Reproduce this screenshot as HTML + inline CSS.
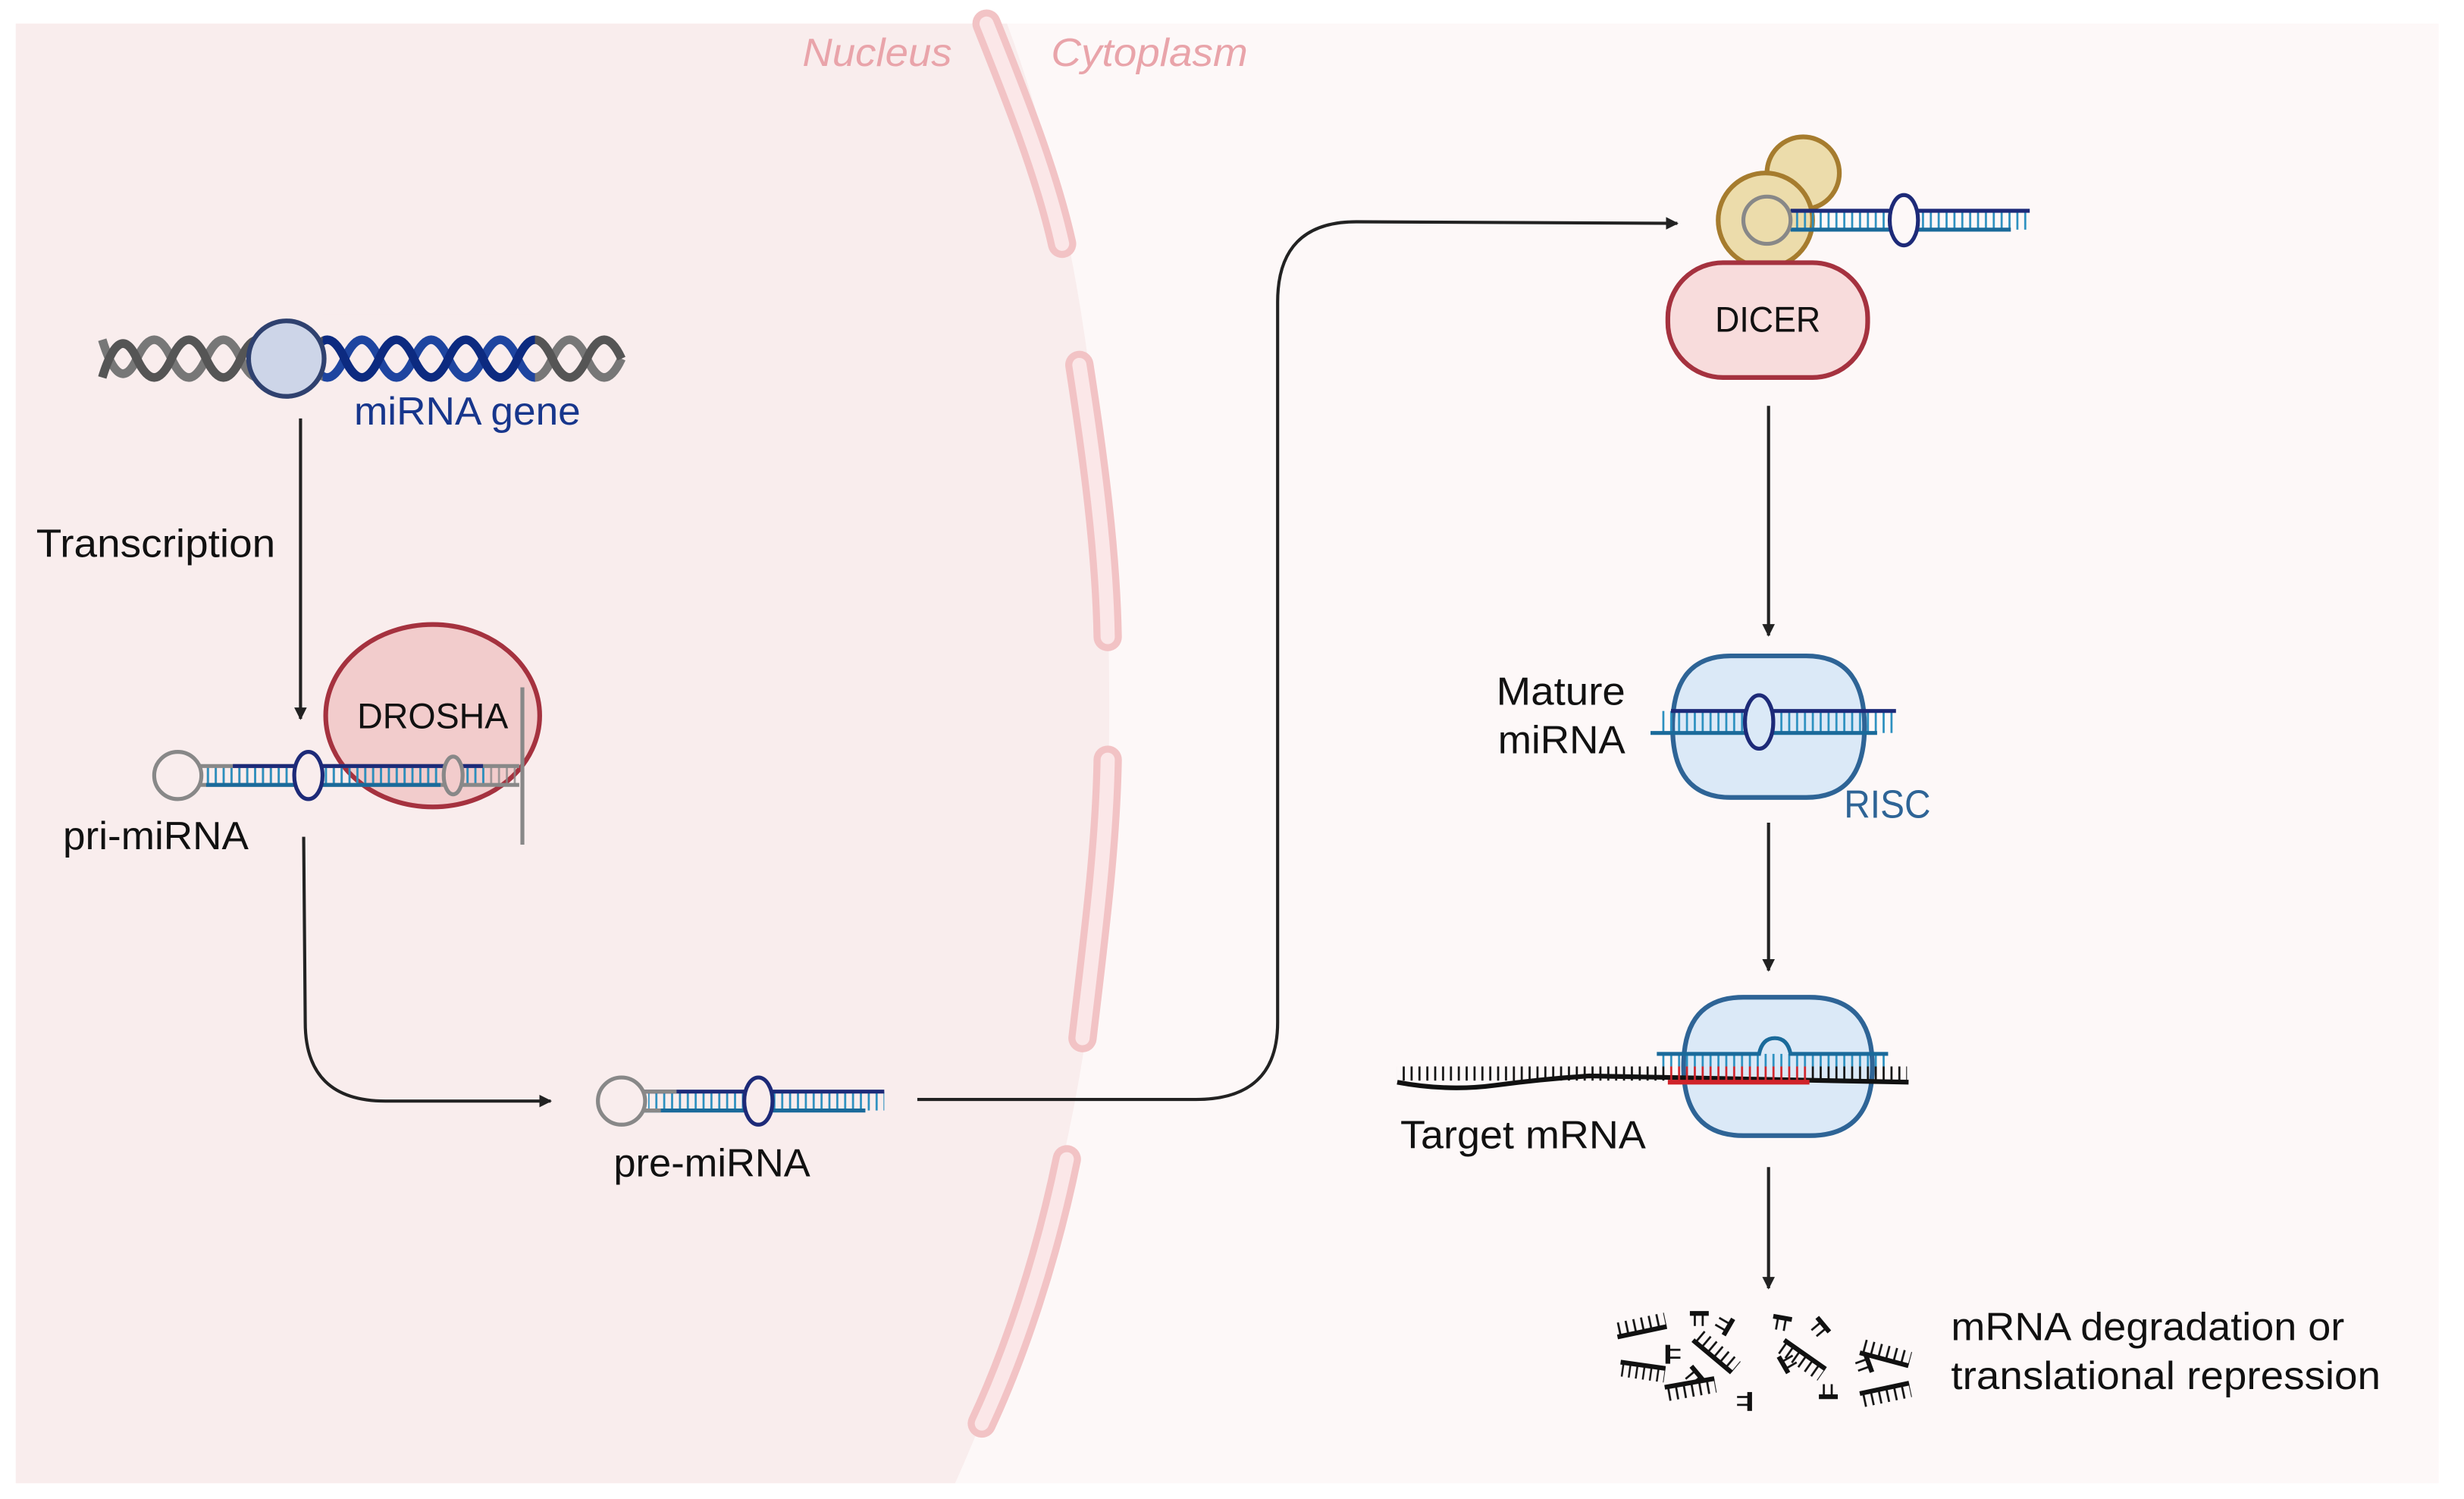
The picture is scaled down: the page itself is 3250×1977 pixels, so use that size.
<!DOCTYPE html>
<html><head><meta charset="utf-8"><style>
html,body{margin:0;padding:0;background:#fff}
svg{display:block}
text{font-family:"Liberation Sans",sans-serif}
</style></head><body>
<svg width="3250" height="1977" viewBox="0 0 1566 953" preserveAspectRatio="none" xmlns="http://www.w3.org/2000/svg">
<defs>
<pattern id="rk" width="5" height="20" patternUnits="userSpaceOnUse"><rect x="1.5" y="0" width="1.3" height="20" fill="#111"/></pattern>
<pattern id="rc" width="5" height="20" patternUnits="userSpaceOnUse"><rect x="1.5" y="0" width="1.3" height="20" fill="#2a8fbf"/></pattern>
<pattern id="rg" width="5" height="20" patternUnits="userSpaceOnUse"><rect x="1.5" y="0" width="1.3" height="20" fill="#888"/></pattern>
<pattern id="rr" width="5" height="20" patternUnits="userSpaceOnUse"><rect x="1.5" y="0" width="1.3" height="20" fill="#d0232a"/></pattern>
<marker id="ah" viewBox="0 0 10 10" refX="9" refY="5" markerWidth="8" markerHeight="8" markerUnits="userSpaceOnUse" orient="auto"><path d="M0,0 L10,5 L0,10z" fill="#222"/></marker>
<clipPath id="cb"><rect x="205" y="200" width="135" height="60"/></clipPath>
<g id="comb"><rect x="0" y="-9" width="32" height="9" fill="url(#rk)"/><line x1="0" y1="0" x2="32" y2="0" stroke="#111" stroke-width="3"/></g>
<g id="sc"><rect x="0" y="-8" width="10" height="8" fill="url(#rk)"/><line x1="-1" y1="0" x2="11" y2="0" stroke="#111" stroke-width="3"/></g>
</defs>
<rect width="1566" height="953" fill="#fff"/>
<rect x="10" y="15" width="1540" height="928" fill="#fdf8f8"/>
<path d="M10,15 L640,15 C690,150 705,300 705,450 C705,620 680,780 607,943 L10,943z" fill="#f9eded"/>
<g stroke="#f2c3c5" stroke-width="18" stroke-linecap="round" fill="none">
<path d="M627,15 C645,60 665,110 675,155"/>
<path d="M686,232 C695,290 703,350 704,405"/>
<path d="M704,483 C703,540 695,600 688,660"/>
<path d="M678,737 C665,800 645,860 624,905"/>
</g>
<g stroke="#fbe7e8" stroke-width="9" stroke-linecap="round" fill="none">
<path d="M627,15 C645,60 665,110 675,155"/>
<path d="M686,232 C695,290 703,350 704,405"/>
<path d="M704,483 C703,540 695,600 688,660"/>
<path d="M678,737 C665,800 645,860 624,905"/>
</g>
<text x="510" y="42" font-size="25" font-style="italic" fill="#e9a4aa" textLength="95" lengthAdjust="spacingAndGlyphs">Nucleus</text>
<text x="668" y="42" font-size="25" font-style="italic" fill="#e9a4aa" textLength="125" lengthAdjust="spacingAndGlyphs">Cytoplasm</text>

<g fill="none" stroke-width="5.5">
<path d="M65,216 Q76,252 87,228 T109,228 T131,228 T153,228 T175,228 T197,228 T219,228 T241,228 T263,228 T285,228 T307,228 T329,228 T351,228 T373,228 T395,228" stroke="#777"/>
<path d="M65,240 Q76,204 87,228 T109,228 T131,228 T153,228 T175,228 T197,228 T219,228 T241,228 T263,228 T285,228 T307,228 T329,228 T351,228 T373,228 T395,228" stroke="#555"/>
<g clip-path="url(#cb)">
<rect x="205" y="200" width="135" height="60" fill="#f9eded"/>
<path d="M65,216 Q76,252 87,228 T109,228 T131,228 T153,228 T175,228 T197,228 T219,228 T241,228 T263,228 T285,228 T307,228 T329,228 T351,228 T373,228 T395,228" stroke="#1e45a0"/>
<path d="M65,240 Q76,204 87,228 T109,228 T131,228 T153,228 T175,228 T197,228 T219,228 T241,228 T263,228 T285,228 T307,228 T329,228 T351,228 T373,228 T395,228" stroke="#0c2a80"/>
</g>
</g>
<circle cx="182" cy="228" r="24" fill="#cdd5e8" stroke="#2f416f" stroke-width="3"/>
<text x="225" y="270" font-size="25" fill="#17368c" textLength="144" lengthAdjust="spacingAndGlyphs">miRNA gene</text>
<line x1="191" y1="266" x2="191" y2="457" stroke="#222" stroke-width="2" marker-end="url(#ah)"/>
<text x="23" y="354" font-size="25" fill="#111" textLength="152" lengthAdjust="spacingAndGlyphs">Transcription</text>

<ellipse cx="275" cy="455" rx="68" ry="58" fill="#f2cccc" stroke="#a5323f" stroke-width="3"/>
<text x="227" y="463" font-size="23" fill="#111" textLength="96" lengthAdjust="spacingAndGlyphs">DROSHA</text>
<g fill="none" stroke-width="2.5">
<rect x="130" y="487" width="200" height="12" fill="url(#rg)" stroke="none" opacity="0.8"/>
<rect x="130" y="487" width="180" height="12" fill="url(#rc)" stroke="none"/>
<path d="M126,487 L330,487" stroke="#888"/>
<path d="M126,499 L330,499" stroke="#888"/>
<path d="M148,487 L307,487" stroke="#1d2a78"/>
<path d="M131,499 L280,499" stroke="#1a6a9a"/>
<circle cx="113" cy="493" r="15" stroke="#888" fill="#f9eded"/>
<ellipse cx="196" cy="493" rx="9" ry="15" stroke="#1d2a78" fill="#f9eded"/>
<ellipse cx="288" cy="493" rx="6" ry="12" stroke="#888" fill="#f2cccc"/>
<path d="M332,437 L332,537" stroke="#888"/>
</g>
<text x="40" y="540" font-size="25" fill="#111" textLength="118" lengthAdjust="spacingAndGlyphs">pri-miRNA</text>
<path d="M193,532 L194,650 Q194,700 245,700 L350,700" fill="none" stroke="#222" stroke-width="2" marker-end="url(#ah)"/>

<g fill="none" stroke-width="2.5">
<rect x="412" y="694" width="150" height="12" fill="url(#rc)" stroke="none"/>
<path d="M408,694 L562,694" stroke="#1d2a78"/>
<path d="M408,706 L550,706" stroke="#1a6a9a"/>
<path d="M408,694 L430,694 M408,706 L420,706" stroke="#888"/>
<circle cx="395" cy="700" r="15" stroke="#888" fill="#f9eded"/>
<ellipse cx="482" cy="700" rx="9" ry="15" stroke="#1d2a78" fill="#f9eded"/>
</g>
<text x="390" y="748" font-size="25" fill="#111" textLength="125" lengthAdjust="spacingAndGlyphs">pre-miRNA</text>
<path d="M583,699 L760,699 Q812,699 812,650 L812,192 Q812,141 862,141 L1066,142" fill="none" stroke="#222" stroke-width="2" marker-end="url(#ah)"/>

<circle cx="1146" cy="110" r="23" fill="#ecdcab" stroke="#a67c2e" stroke-width="3"/>
<circle cx="1122" cy="140" r="30" fill="#ecdcab" stroke="#a67c2e" stroke-width="3"/>
<g fill="none" stroke-width="2.5">
<rect x="1140" y="134" width="150" height="12" fill="url(#rc)" stroke="none"/>
<path d="M1138,134 L1290,134" stroke="#1d2a78"/>
<path d="M1138,146 L1278,146" stroke="#1a6a9a"/>
<circle cx="1123" cy="140" r="15" stroke="#888" fill="#ecdcab"/>
<ellipse cx="1210" cy="140" rx="9" ry="16" stroke="#1d2a78" fill="#fdf8f8"/>
</g>
<rect x="1060" y="167" width="127" height="73" rx="35" fill="#f8dcdc" stroke="#a5323f" stroke-width="3"/>
<text x="1090" y="211" font-size="23" fill="#111" textLength="67" lengthAdjust="spacingAndGlyphs">DICER</text>
<line x1="1124" y1="258" x2="1124" y2="404" stroke="#222" stroke-width="2" marker-end="url(#ah)"/>

<path d="M1100,417 L1148,417 Q1185,417 1185,462 Q1185,507 1148,507 L1100,507 Q1063,507 1063,462 Q1063,417 1100,417z" fill="#dbe9f7" stroke="#2e6496" stroke-width="3"/>
<g fill="none" stroke-width="2.5">
<rect x="1055" y="452" width="150" height="14" fill="url(#rc)" stroke="none"/>
<path d="M1062,452 L1205,452" stroke="#1d2a78"/>
<path d="M1049,466 L1193,466" stroke="#1a6a9a"/>
<ellipse cx="1118" cy="459" rx="9" ry="17" stroke="#1d2a78" fill="#dbe9f7"/>
</g>
<text x="951" y="448" font-size="25" fill="#111" textLength="82" lengthAdjust="spacingAndGlyphs">Mature</text>
<text x="952" y="479" font-size="25" fill="#111" textLength="81" lengthAdjust="spacingAndGlyphs">miRNA</text>
<text x="1172" y="520" font-size="25" fill="#2e6496" textLength="55" lengthAdjust="spacingAndGlyphs">RISC</text>
<line x1="1124" y1="523" x2="1124" y2="617" stroke="#222" stroke-width="2" marker-end="url(#ah)"/>

<path d="M1108,634 L1150,634 Q1190,634 1190,678 Q1190,722 1150,722 L1108,722 Q1070,722 1070,678 Q1070,634 1108,634z" fill="#dbe9f7" stroke="#2e6496" stroke-width="3"/>
<path d="M888,688 Q920,694 950,690 T1010,684 L1213,688" fill="none" stroke="#111" stroke-width="3"/>
<rect x="888" y="678" width="170" height="9" fill="url(#rk)"/>
<rect x="1150" y="678" width="62" height="9" fill="url(#rk)"/>
<rect x="1058" y="678" width="92" height="9" fill="url(#rr)"/>
<line x1="1060" y1="688" x2="1150" y2="688" stroke="#d0232a" stroke-width="3"/>
<rect x="1056" y="670" width="142" height="8" fill="url(#rc)"/>
<path d="M1053,670 L1118,670 Q1120,660 1128,660 Q1136,660 1138,670 L1200,670" fill="none" stroke="#1a6a9a" stroke-width="2.5"/>
<text x="890" y="730" font-size="25" fill="#111" textLength="156" lengthAdjust="spacingAndGlyphs">Target mRNA</text>
<line x1="1124" y1="742" x2="1124" y2="819" stroke="#222" stroke-width="2" marker-end="url(#ah)"/>

<use href="#comb" transform="translate(1028,850) rotate(-12)"/>
<use href="#comb" transform="translate(1030,866) rotate(8) scale(0.9,-1)"/>
<use href="#comb" transform="translate(1058,882) rotate(-10) scale(1,-1)"/>
<use href="#comb" transform="translate(1076,852) rotate(40)"/>
<use href="#comb" transform="translate(1134,852) rotate(35) scale(1,-1)"/>
<use href="#comb" transform="translate(1182,860) rotate(15)"/>
<use href="#comb" transform="translate(1182,886) rotate(-12) scale(1,-1)"/>
<use href="#sc" transform="translate(1075,835) scale(1,-1)"/>
<use href="#sc" transform="translate(1060,856) rotate(90)"/>
<use href="#sc" transform="translate(1096,848) rotate(-60)"/>
<use href="#sc" transform="translate(1082,877) rotate(-130)"/>
<use href="#sc" transform="translate(1112,886) rotate(90) scale(1,-1)"/>
<use href="#sc" transform="translate(1128,837) rotate(10) scale(1,-1)"/>
<use href="#sc" transform="translate(1162,846) rotate(-130)"/>
<use href="#sc" transform="translate(1136,872) rotate(-120) scale(1,-1)"/>
<use href="#sc" transform="translate(1157,888)"/>
<use href="#sc" transform="translate(1186,862) rotate(70) scale(1,-1)"/>
<text x="1240" y="852" font-size="25" fill="#111" textLength="250" lengthAdjust="spacingAndGlyphs">mRNA degradation or</text>
<text x="1240" y="883" font-size="25" fill="#111" textLength="273" lengthAdjust="spacingAndGlyphs">translational repression</text>
</svg>
</body></html>
